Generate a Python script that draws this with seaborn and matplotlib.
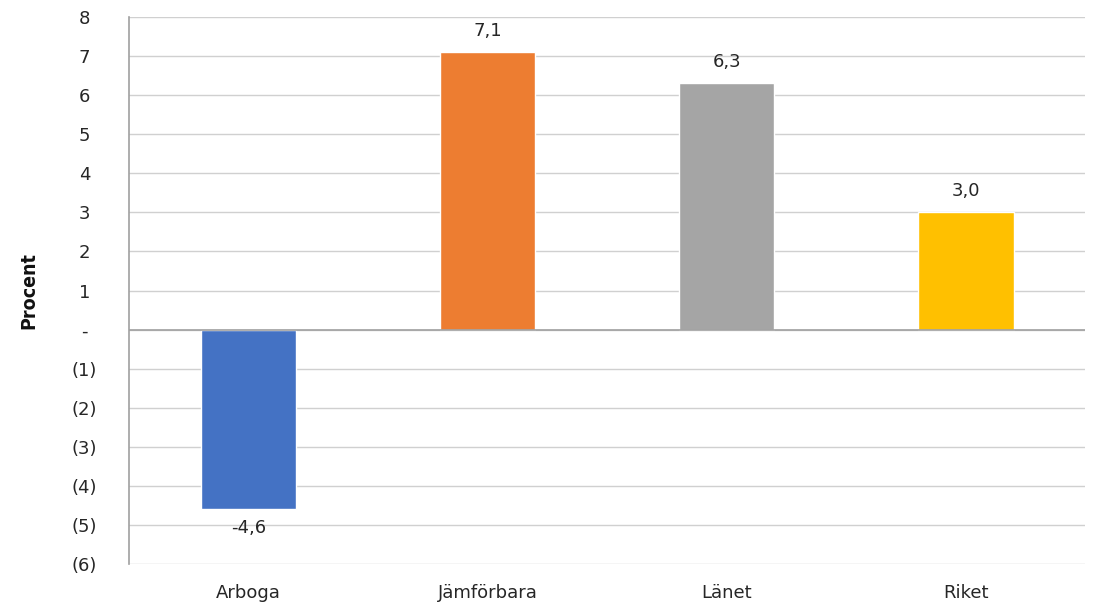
import matplotlib
matplotlib.use("Agg")
import matplotlib.pyplot as plt
import seaborn as sns
import pandas as pd
from matplotlib.ticker import FuncFormatter

# data
categories = ['Arboga', 'Jämförbara', 'Länet', 'Riket']
values = [-4.6, 7.1, 6.3, 3.0]
colors = ['#4472C4', '#ED7D31', '#A5A5A5', '#FFC000']

df = pd.DataFrame({'kategori': categories, 'procent': values})

sns.set_style("white")
plt.rcParams['font.family'] = ['DejaVu Sans']

fig = plt.figure(figsize=(10.94, 6.06), dpi=100)
ax = fig.add_axes([0.118, 0.069, 0.874, 0.903])

sns.barplot(data=df, x='kategori', y='procent', hue='kategori', palette=colors,
            saturation=1, width=0.4, legend=False, ax=ax, zorder=3)

ax.set_ylim(-6, 8)
ax.set_yticks(range(-6, 9))
ax.yaxis.set_major_formatter(FuncFormatter(
    lambda v, p: '-' if v == 0 else ('(%d)' % abs(v) if v < 0 else '%d' % v)))
ax.grid(axis='y', color='#d0d0d0', linewidth=1, zorder=0)
ax.axhline(0, color='#a0a0a0', linewidth=1.2, zorder=4)

for s in ['top', 'right', 'bottom']:
    ax.spines[s].set_visible(False)
ax.spines['left'].set_color('#a0a0a0')
ax.spines['left'].set_linewidth(1.2)

ax.tick_params(axis='both', length=0, labelsize=13, colors='#262626')
ax.tick_params(axis='y', pad=32)
ax.tick_params(axis='x', pad=14)
for lbl in ax.get_yticklabels():
    lbl.set_horizontalalignment('center')
ax.set_xlabel('')
ax.set_ylabel('Procent', fontsize=14, fontweight='bold', fontstretch='condensed',
              labelpad=24, color='#111111')

for i, v in enumerate(values):
    txt = ('%.1f' % v).replace('.', ',')
    if v >= 0:
        ax.annotate(txt, (i, v), xytext=(0, 9), textcoords='offset points',
                    ha='center', va='bottom', fontsize=13, color='#262626')
    else:
        ax.annotate(txt, (i, v), xytext=(0, -7), textcoords='offset points',
                    ha='center', va='top', fontsize=13, color='#262626')

fig.savefig('out.png', dpi=100)
